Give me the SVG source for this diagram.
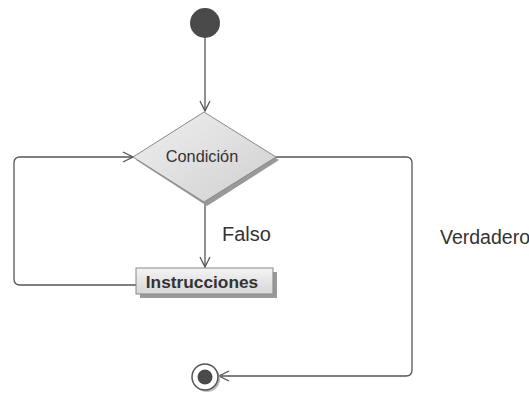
<svg xmlns="http://www.w3.org/2000/svg" width="529" height="393" viewBox="0 0 529 393">
  <style>
    .edge { fill: none; stroke: #555; stroke-width: 1.3; }
    .lbl { font-family: "Liberation Sans", Arial, sans-serif; fill: #333; }
    .shadow { fill: #999; }
  </style>
  <defs>
    <linearGradient id="grayFill" x1="0" y1="0" x2="1" y2="1">
      <stop offset="0" stop-color="#f0f0f0"/>
      <stop offset="1" stop-color="#cfcfcf"/>
    </linearGradient>
    <linearGradient id="boxFill" x1="0" y1="0" x2="0" y2="1">
      <stop offset="0" stop-color="#f4f4f4"/>
      <stop offset="1" stop-color="#d6d6d6"/>
    </linearGradient>
    <marker id="openArrow" viewBox="0 0 12 12" refX="11" refY="6" markerWidth="12" markerHeight="12" markerUnits="userSpaceOnUse" orient="auto">
      <path d="M1,1 L11,6 L1,11" fill="none" stroke="#555" stroke-width="1.3"/>
    </marker>
  </defs>

  <!-- connectors -->
  <g id="connectors">
    <path class="edge" d="M205,38 L205,111" marker-end="url(#openArrow)"/>
    <path class="edge" d="M205,202 L205,267" marker-end="url(#openArrow)"/>
    <path class="edge" d="M136,285 L20,285 Q14,285 14,279 L14,163 Q14,157 20,157 L133,157" marker-end="url(#openArrow)"/>
    <path class="edge" d="M276,157 L406,157 Q412,157 412,163 L412,370 Q412,376 406,376 L219,376" marker-end="url(#openArrow)"/>
  </g>

  <!-- start -->
  <g id="start">
    <circle cx="205" cy="23" r="15" fill="#4a4a4a"/>
  </g>

  <!-- decision -->
  <g id="condicion">
    <polygon class="shadow" points="207,115 279,160 207,206 136,160"/>
    <polygon points="204,112 276,157 204,202 133,157" fill="url(#grayFill)" stroke="#888" stroke-width="1"/>
    <text class="lbl" x="202" y="162" font-size="16.3" text-anchor="middle">Condición</text>
  </g>

  <!-- action -->
  <g id="instrucciones">
    <rect class="shadow" x="140" y="272" width="137" height="26"/>
    <rect x="136" y="268" width="137" height="26" fill="url(#boxFill)" stroke="#888" stroke-width="1"/>
    <text class="lbl" x="202" y="288" font-size="17.3" font-weight="bold" text-anchor="middle" fill="#1a1a1a">Instrucciones</text>
  </g>

  <!-- end -->
  <g id="end">
    <circle cx="207" cy="379" r="13" fill="#bbb"/>
    <circle cx="205" cy="377" r="13" fill="#fff" stroke="#555" stroke-width="1.5"/>
    <circle cx="205" cy="377" r="7.5" fill="#4a4a4a"/>
  </g>

  <!-- edge labels -->
  <g id="labels">
    <text class="lbl" x="222" y="241" font-size="20">Falso</text>
    <text class="lbl" x="440" y="244" font-size="19.5">Verdadero</text>
  </g>
</svg>
